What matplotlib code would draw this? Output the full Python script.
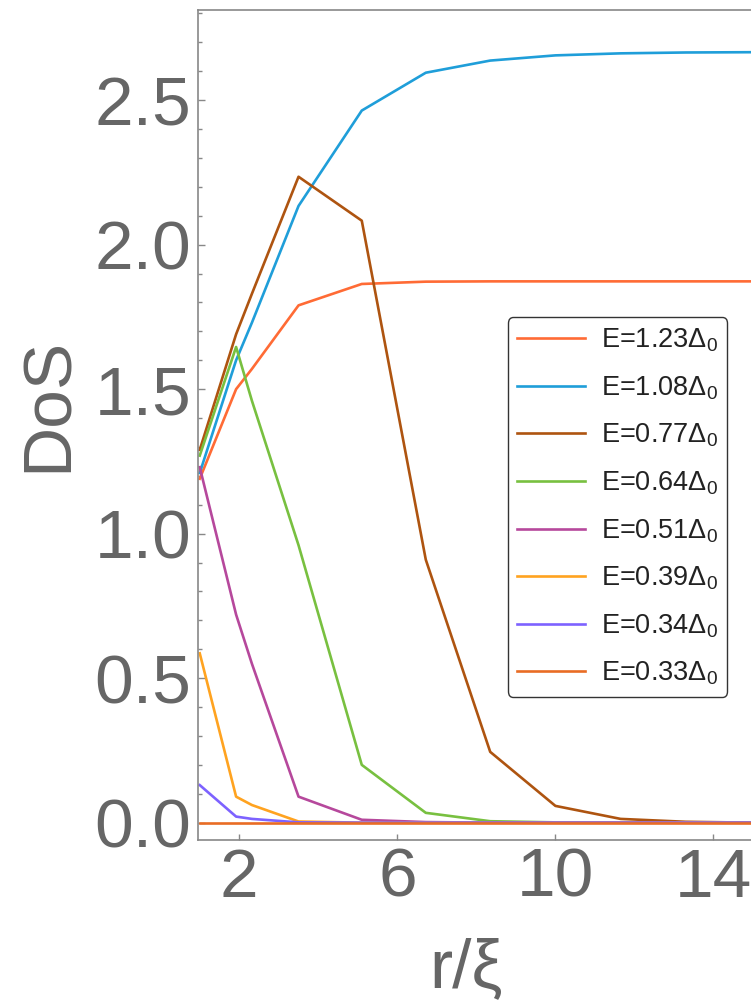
import matplotlib
matplotlib.use('Agg')
import matplotlib.pyplot as plt
from matplotlib.ticker import MultipleLocator

plt.rcParams['font.family'] = ['Liberation Sans', 'DejaVu Sans']
plt.rcParams['mathtext.fontset'] = 'custom'
plt.rcParams['mathtext.rm'] = 'Liberation Sans'
plt.rcParams['mathtext.it'] = 'Liberation Sans:italic'

# r / xi sample points
r = [1.0, 1.92, 2.32, 3.5, 5.1, 6.72, 8.35, 10.0, 11.65, 13.3, 15.0]

# density of states for each energy
dos_123 = [1.19, 1.50, 1.57, 1.79, 1.864, 1.872, 1.873, 1.873, 1.873, 1.873, 1.873]
dos_108 = [1.21, 1.60, 1.73, 2.134, 2.464, 2.595, 2.637, 2.655, 2.662, 2.665, 2.666]
dos_077 = [1.29, 1.69, 1.83, 2.235, 2.083, 0.91, 0.245, 0.058, 0.013, 0.003, 0.0]
dos_064 = [1.27, 1.646, 1.46, 0.96, 0.20, 0.034, 0.005, 0.001, 0.0, 0.0, 0.0]
dos_051 = [1.23, 0.72, 0.55, 0.09, 0.01, 0.002, 0.0, 0.0, 0.0, 0.0, 0.0]
dos_039 = [0.586, 0.09, 0.061, 0.004, 0.0, 0.0, 0.0, 0.0, 0.0, 0.0, 0.0]
dos_034 = [0.13, 0.021, 0.013, 0.001, 0.0, 0.0, 0.0, 0.0, 0.0, 0.0, 0.0]
dos_033 = [0.0, 0.0, 0.0, 0.0, 0.0, 0.0, 0.0, 0.0, 0.0, 0.0, 0.0]

labels = ['1.23', '1.08', '0.77', '0.64', '0.51', '0.39', '0.34', '0.33']
series = [dos_123, dos_108, dos_077, dos_064, dos_051, dos_039, dos_034, dos_033]
colours = ['#ff6b35', '#1f9ed9', '#ae5410', '#78c040', '#b6489c',
           '#ffa320', '#7d62ff', '#e96c24']

grey = '#666666'

fig = plt.figure(figsize=(7.51, 10.07), dpi=100)
ax = fig.add_axes([198 / 751, 167 / 1007, 555 / 751, 830 / 1007])

for lab, y, c in zip(labels, series, colours):
    ax.plot(r, y, color=c, lw=1.9, label='E=' + lab + r'$\Delta_0$')

ax.set_xlim(0.956, 15.0)
ax.set_ylim(-0.06, 2.812)

ax.set_xticks([2, 6, 10, 14])
ax.yaxis.set_major_locator(MultipleLocator(0.5))
ax.yaxis.set_minor_locator(MultipleLocator(0.1))
ax.yaxis.set_major_formatter(matplotlib.ticker.FormatStrFormatter('%.1f'))

ax.tick_params(which='both', direction='in', colors='#888888',
               labelcolor=grey, labelsize=50, width=1, pad=5)
ax.tick_params(which='major', length=5)
ax.tick_params(which='minor', length=3)
ax.tick_params(axis='x', which='major', length=4)

for s in ['left', 'bottom', 'top']:
    ax.spines[s].set_color('#888888')
    ax.spines[s].set_linewidth(1.2)
ax.spines['right'].set_visible(False)

ax.set_xlabel(r'r/ξ', fontsize=50, color=grey)
ax.xaxis.set_label_coords(0.483, -0.117)
ax.set_ylabel('DoS', fontsize=50, color=grey)
ax.yaxis.set_label_coords(-0.211, 0.525)

leg = ax.legend(loc='lower left', bbox_to_anchor=(0.558, 0.1727), borderaxespad=0,
                fontsize=19.5, frameon=True, fancybox=True, edgecolor='black',
                handlelength=2.5, handletextpad=0.58, labelspacing=0.74,
                borderpad=0.35)
leg.get_frame().set_linewidth(1.0)
for t in leg.get_texts():
    t.set_color('#222222')

plt.savefig('out.png', dpi=100)
